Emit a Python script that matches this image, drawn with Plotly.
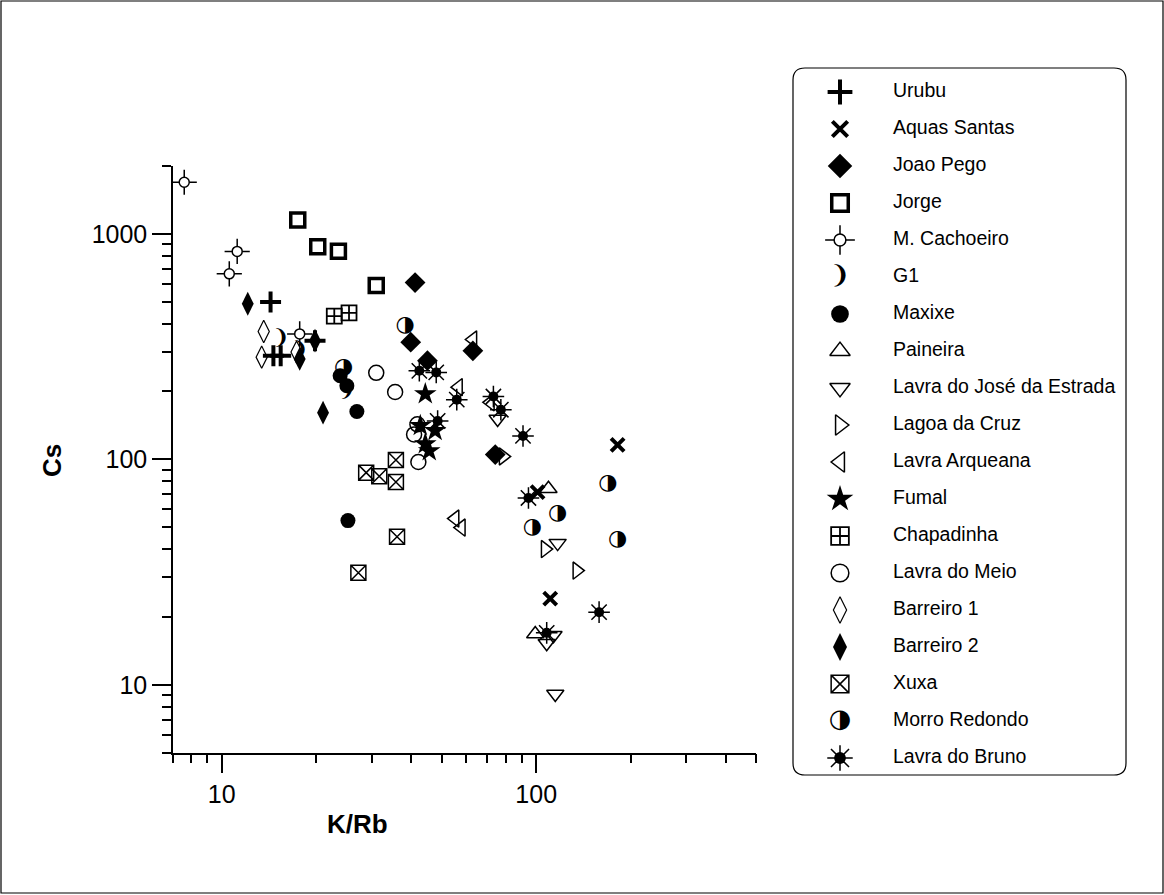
import math
import plotly.graph_objects as go

# ---------------- data ----------------
series_names = ["Urubu", "Aquas Santas", "Joao Pego", "Jorge", "M. Cachoeiro", "G1",
                "Maxixe", "Paineira", "Lavra do José da Estrada", "Lagoa da Cruz",
                "Lavra Arqueana", "Fumal", "Chapadinha", "Lavra do Meio", "Barreiro 1",
                "Barreiro 2", "Xuxa", "Morro Redondo", "Lavra do Bruno"]

urubu_kr = [14.3, 14.6, 15.4, 19.8]
urubu_cs = [499, 288, 288, 336]
aquas_kr = [181.5, 101, 110.8]
aquas_cs = [116, 71.5, 24.1]
joao_kr = [41.2, 39.9, 45.1, 62.9, 74.1]
joao_cs = [608, 331, 274, 303, 105]
jorge_kr = [17.45, 20.2, 23.5, 31.0]
jorge_cs = [1152, 877, 838, 591]
cach_kr = [7.6, 11.2, 10.57, 17.7]
cach_cs = [1694, 836, 665, 360]
g1_kr = [15.4, 25.0, 17.7]
g1_cs = [342, 201, 303]
maxixe_kr = [23.8, 25.0, 26.9, 25.2]
maxixe_cs = [235, 212, 163, 53.5]
paineira_kr = [109.4, 99.3]
paineira_cs = [74.1, 16.8]
jose_kr = [75.4, 117, 108, 113.5, 115]
jose_cs = [151, 42.5, 15.3, 16.6, 9.1]
lagoa_kr = [78.5, 106.8, 134.7]
lagoa_cs = [103, 40, 32.1]
arqueana_kr = [62.9, 56.6, 55.2, 57.8, 71.5]
arqueana_cs = [340, 209, 54.6, 49.8, 179]
fumal_kr = [44.4, 42.8, 44.4, 45.7, 47.7]
fumal_cs = [195, 141, 117, 109, 134]
chapadinha_kr = [22.8, 25.4]
chapadinha_cs = [432, 446]
meio_kr = [31.0, 35.6, 41.9, 40.9, 42.2]
meio_cs = [242, 199, 143, 129, 97.3]
barreiro1_kr = [13.6, 13.4, 17.3]
barreiro1_cs = [369, 284, 299]
barreiro2_kr = [12.1, 17.7, 21.0, 19.8]
barreiro2_cs = [490, 279, 161, 336]
xuxa_kr = [28.8, 31.7, 35.8, 35.8, 36.1, 27.2]
xuxa_cs = [87.3, 84.2, 99.3, 79.3, 45.4, 31.4]
morro_kr = [38.3, 24.4, 169, 117, 97.3, 181.5]
morro_cs = [393, 256, 78, 57.3, 50.1, 44.1]
bruno_kr = [42.5, 48.1, 55.9, 73.1, 77.2, 90.8, 48.6, 94.5, 158.5, 108]
bruno_cs = [247, 243, 184, 190, 166, 127, 148, 67.4, 21, 17]

x_tick_vals = [10, 100]
x_tick_text = ["10", "100"]
x_minor_vals = [7, 8, 9, 20, 30, 40, 50, 60, 70, 80, 90, 200, 300, 400, 500]
y_tick_vals = [10, 100, 1000]
y_tick_text = ["10", "100", "1000"]
y_minor_vals = [5, 6, 7, 8, 9, 20, 30, 40, 50, 60, 70, 80, 90,
                200, 300, 400, 500, 600, 700, 800, 900, 2000]

series_data = {
    "Urubu": (urubu_kr, urubu_cs),
    "Aquas Santas": (aquas_kr, aquas_cs),
    "Joao Pego": (joao_kr, joao_cs),
    "Jorge": (jorge_kr, jorge_cs),
    "M. Cachoeiro": (cach_kr, cach_cs),
    "G1": (g1_kr, g1_cs),
    "Maxixe": (maxixe_kr, maxixe_cs),
    "Paineira": (paineira_kr, paineira_cs),
    "Lavra do José da Estrada": (jose_kr, jose_cs),
    "Lagoa da Cruz": (lagoa_kr, lagoa_cs),
    "Lavra Arqueana": (arqueana_kr, arqueana_cs),
    "Fumal": (fumal_kr, fumal_cs),
    "Chapadinha": (chapadinha_kr, chapadinha_cs),
    "Lavra do Meio": (meio_kr, meio_cs),
    "Barreiro 1": (barreiro1_kr, barreiro1_cs),
    "Barreiro 2": (barreiro2_kr, barreiro2_cs),
    "Xuxa": (xuxa_kr, xuxa_cs),
    "Morro Redondo": (morro_kr, morro_cs),
    "Lavra do Bruno": (bruno_kr, bruno_cs),
}

# ---------------- styles ----------------
BLACK = "#000000"
FONT = "Liberation Sans, Arial, sans-serif"

def mk(symbol, size, lw=0, color=BLACK, lcolor=BLACK):
    return {"kind": "marker", "symbol": symbol, "size": size, "lw": lw,
            "color": color, "lcolor": lcolor}

def tx(char, size, family="DejaVu Sans"):
    return {"kind": "text", "char": char, "size": size, "family": family}

styles = {
    "Urubu": [mk("cross-thin-open", 15, 4)],
    "Aquas Santas": [mk("x-thin-open", 13, 4)],
    "Joao Pego": [mk("diamond", 16)],
    "Jorge": [mk("square-open", 14, 3.5)],
    "M. Cachoeiro": [mk("cross-thin-open", 18, 1.5), mk("circle", 10, 1.5, color="white")],
    "G1": [tx("❩", 21)],
    "Maxixe": [mk("circle", 15)],
    "Paineira": [mk("triangle-up-open", 15, 1.5)],
    "Lavra do José da Estrada": [mk("triangle-down-open", 15, 1.5)],
    "Lagoa da Cruz": [mk("triangle-right-open", 15, 1.5)],
    "Lavra Arqueana": [mk("triangle-left-open", 15, 1.5)],
    "Fumal": [mk("star", 17)],
    "Chapadinha": [mk("square-cross-open", 15, 1.8)],
    "Lavra do Meio": [mk("circle-open", 15, 1.5)],
    "Barreiro 1": [mk("diamond-tall-open", 16, 1.2)],
    "Barreiro 2": [mk("diamond-tall", 17)],
    "Xuxa": [mk("square-x-open", 15, 1.5)],
    "Morro Redondo": [tx("◑", 22)],
    "Lavra do Bruno": [mk("asterisk-open", 18, 1.5), mk("circle", 10)],
}

fig = go.Figure()

def add_series(name, xs, ys, xa, ya, scale=1.0):
    for st in styles[name]:
        if st["kind"] == "marker":
            fig.add_trace(go.Scatter(
                x=xs, y=ys, mode="markers", xaxis=xa, yaxis=ya, showlegend=False,
                hoverinfo="skip",
                marker=dict(symbol=st["symbol"], size=st["size"] * scale, color=st["color"],
                            line=dict(width=st["lw"], color=st["lcolor"]))))
        else:
            fig.add_trace(go.Scatter(
                x=xs, y=ys, mode="text", xaxis=xa, yaxis=ya, showlegend=False,
                hoverinfo="skip", text=[st["char"]] * len(xs),
                textposition="middle center",
                textfont=dict(family=st["family"], size=st["size"] * scale, color=BLACK)))

# main scatter
for name in series_names:
    xs, ys = series_data[name]
    add_series(name, xs, ys, "x", "y")

# custom legend panel (row index = series order)
LEG_SYM_X = 47
LEG_TXT_X = 100
for i, name in enumerate(series_names):
    add_series(name, [LEG_SYM_X], [i], "x2", "y2", scale=1.18)
fig.add_trace(go.Scatter(
    x=[LEG_TXT_X] * len(series_names), y=list(range(len(series_names))),
    mode="text", text=series_names, textposition="middle right",
    textfont=dict(family=FONT, size=19.5, color=BLACK),
    xaxis="x2", yaxis="y2", showlegend=False, hoverinfo="skip"))

W, H = 1164, 895
# plot area pixels
PX0, PX1, PY0, PY1 = 173, 756, 166, 752.7
# legend pixels
LX0, LX1, LY0, LY1 = 793, 1126, 68, 775
ROW0, ROWH = 92, 37
pad = 4

def row_of(p):
    return (p - ROW0) / ROWH

axis_common = dict(showline=True, linecolor=BLACK, linewidth=1.5, ticks="outside",
                   ticklen=19, tickwidth=1.5, tickcolor=BLACK, showgrid=False,
                   zeroline=False, tickfont=dict(family=FONT, size=25, color=BLACK))

fig.update_layout(
    width=W, height=H,
    margin=dict(l=0, r=0, t=0, b=0),
    paper_bgcolor="white", plot_bgcolor="white",
    xaxis=dict(type="log", range=[math.log10(7), math.log10(500)],
               domain=[PX0 / W, PX1 / W], anchor="y",
               tickvals=x_tick_vals, ticktext=x_tick_text,
               minor=dict(tickvals=x_minor_vals, ticks="outside", ticklen=9,
                          tickwidth=1.5, tickcolor=BLACK, showgrid=False),
               **axis_common),
    yaxis=dict(type="log", range=[math.log10(5), math.log10(2000)],
               domain=[1 - PY1 / H, 1 - PY0 / H], anchor="x",
               tickvals=y_tick_vals, ticktext=y_tick_text,
               minor=dict(tickvals=y_minor_vals, ticks="outside", ticklen=9,
                          tickwidth=1.5, tickcolor=BLACK, showgrid=False),
               **axis_common),
    xaxis2=dict(domain=[(LX0 - pad) / W, (LX1 + pad) / W], anchor="y2",
                range=[-pad, (LX1 - LX0) + pad], visible=False),
    yaxis2=dict(domain=[1 - (LY1 + pad) / H, 1 - (LY0 - pad) / H], anchor="x2",
                range=[row_of(LY1 + pad), row_of(LY0 - pad)], visible=False),
    annotations=[
        dict(text="<b>K/Rb</b>", x=357 / W, y=1 - 824 / H, xref="paper", yref="paper",
             showarrow=False, font=dict(family=FONT, size=26, color=BLACK),
             xanchor="center", yanchor="middle"),
        dict(text="<b>Cs</b>", x=52 / W, y=1 - 461 / H, xref="paper", yref="paper",
             showarrow=False, textangle=-90,
             font=dict(family=FONT, size=26, color=BLACK),
             xanchor="center", yanchor="middle"),
    ],
)

# rounded legend box
r = 12
ry = r / ROWH
x0, x1 = 0, LX1 - LX0
y0, y1 = row_of(LY0), row_of(LY1)
path = (f"M {x0 + r},{y0} L {x1 - r},{y0} Q {x1},{y0} {x1},{y0 + ry} "
        f"L {x1},{y1 - ry} Q {x1},{y1} {x1 - r},{y1} L {x0 + r},{y1} "
        f"Q {x0},{y1} {x0},{y1 - ry} L {x0},{y0 + ry} Q {x0},{y0} {x0 + r},{y0} Z")
fig.add_shape(type="path", path=path, xref="x2", yref="y2",
              line=dict(color=BLACK, width=1.2), layer="below")
# outer frame
fig.add_shape(type="rect", xref="paper", yref="paper", x0=1 / W, x1=1 - 1 / W,
              y0=2 / H, y1=1 - 1 / H, line=dict(color=BLACK, width=1.2))

fig.write_html("out.html",
               config={"displayModeBar": False},
               post_script="document.body.style.margin='0px';"
                           "document.body.style.overflow='hidden';")
